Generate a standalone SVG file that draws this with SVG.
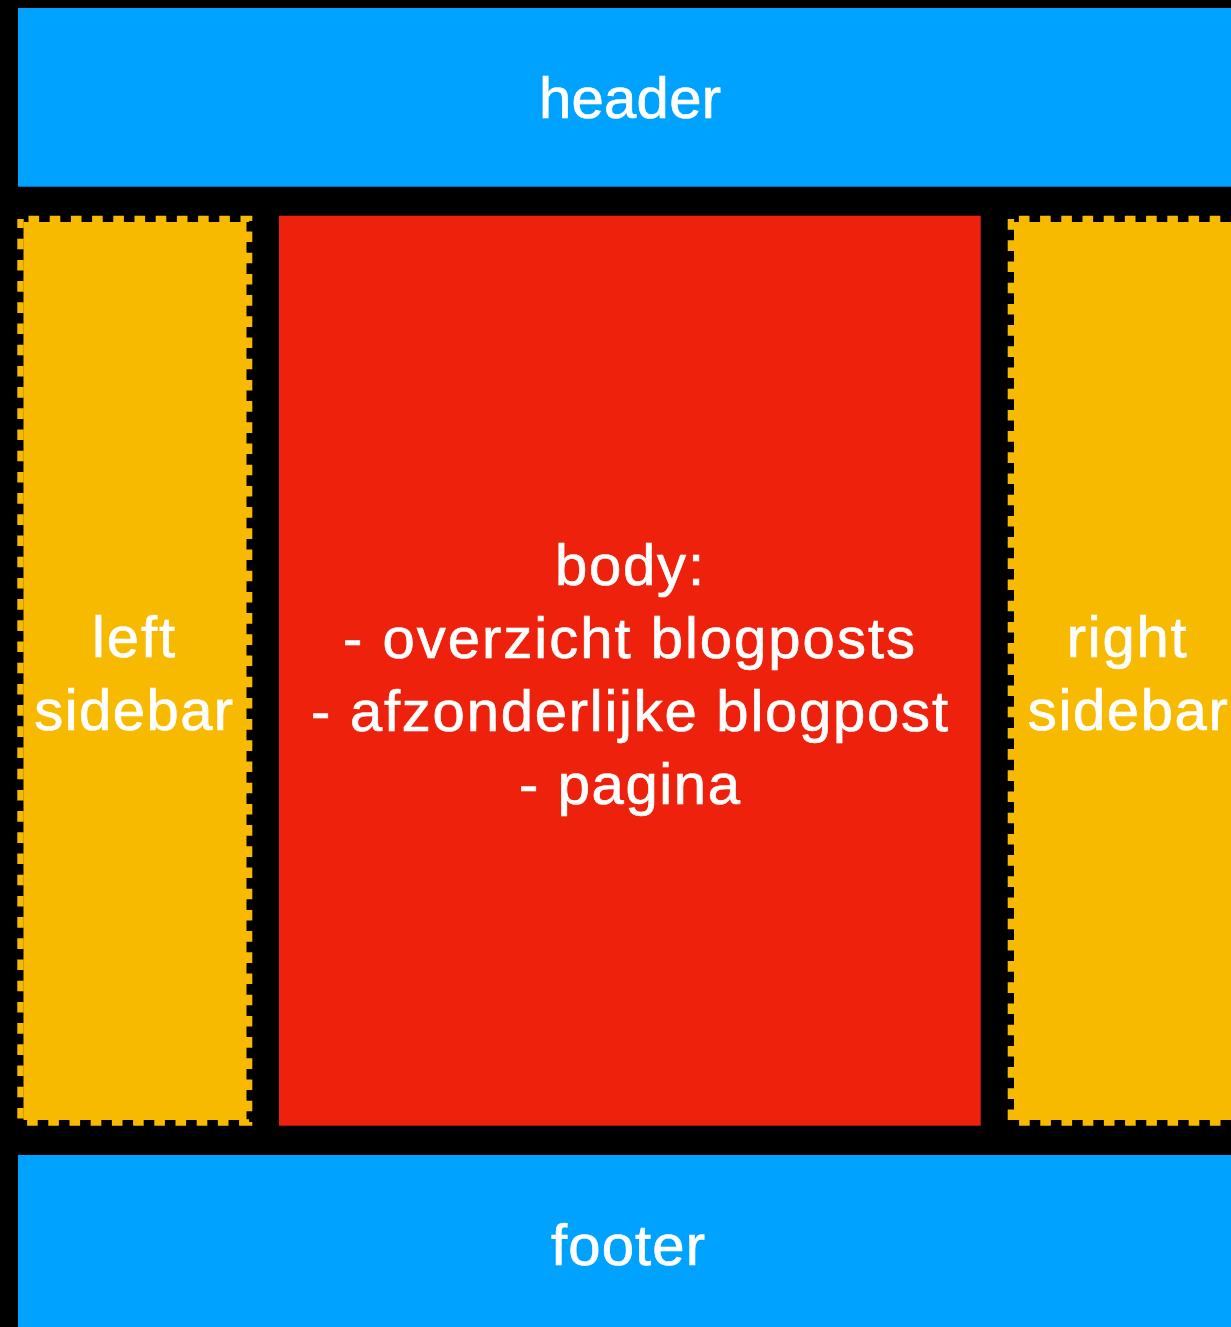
<svg xmlns="http://www.w3.org/2000/svg" width="1231" height="1327" viewBox="0 0 1231 1327">
<style>
.lbl{font-family:"Liberation Sans",Arial,Helvetica,sans-serif;font-size:58px;fill:#FFFFFF;stroke:#FFFFFF;stroke-width:0.7;text-anchor:middle}
.blue{fill:#00A2FF}
.yellow{fill:#F8BA00}
.red{fill:#EE220C}
.dash{fill:none;stroke:#F8BA00;stroke-width:6.4;stroke-dasharray:10.6 10.6}
</style>
<rect x="0" y="0" width="1231" height="1327" fill="#000000"/>
<g id="header">
<rect class="blue" x="18" y="8" width="1223" height="178.7"/>
<text class="lbl" x="630" y="117.5" textLength="182" lengthAdjust="spacing">header</text>
</g>
<g id="left-sidebar">
<rect class="yellow" x="23.5" y="222" width="223" height="898"/>
<rect class="dash" x="20.5" y="218.9" width="228.6" height="903.6" stroke-dashoffset="13.2"/>
<text class="lbl" x="133.5" y="656.7" textLength="83" lengthAdjust="spacing">left</text>
<text class="lbl" x="133.7" y="729.5" textLength="199" lengthAdjust="spacing">sidebar</text>
</g>
<g id="body">
<rect class="red" x="279" y="215.7" width="701.7" height="910"/>
<text class="lbl" x="629.5" y="585" textLength="149" lengthAdjust="spacing">body:</text>
<text class="lbl" x="629" y="658" textLength="572" lengthAdjust="spacing">- overzicht blogposts</text>
<text class="lbl" x="629.5" y="731" textLength="637" lengthAdjust="spacing">- afzonderlijke blogpost</text>
<text class="lbl" x="629.5" y="804" textLength="221" lengthAdjust="spacing">- pagina</text>
</g>
<g id="right-sidebar">
<rect class="yellow" x="1014" y="222" width="240" height="898"/>
<rect class="dash" x="1010.9" y="218.9" width="240" height="903.6" stroke-dashoffset="13.2"/>
<text class="lbl" x="1126.7" y="656.7" textLength="120" lengthAdjust="spacing">right</text>
<text class="lbl" x="1127.8" y="729.5" textLength="200" lengthAdjust="spacing">sidebar</text>
</g>
<g id="footer">
<rect class="blue" x="18" y="1155" width="1223" height="180"/>
<text class="lbl" x="628" y="1265" textLength="154" lengthAdjust="spacing">footer</text>
</g>
<g id="connectors"/>
</svg>
